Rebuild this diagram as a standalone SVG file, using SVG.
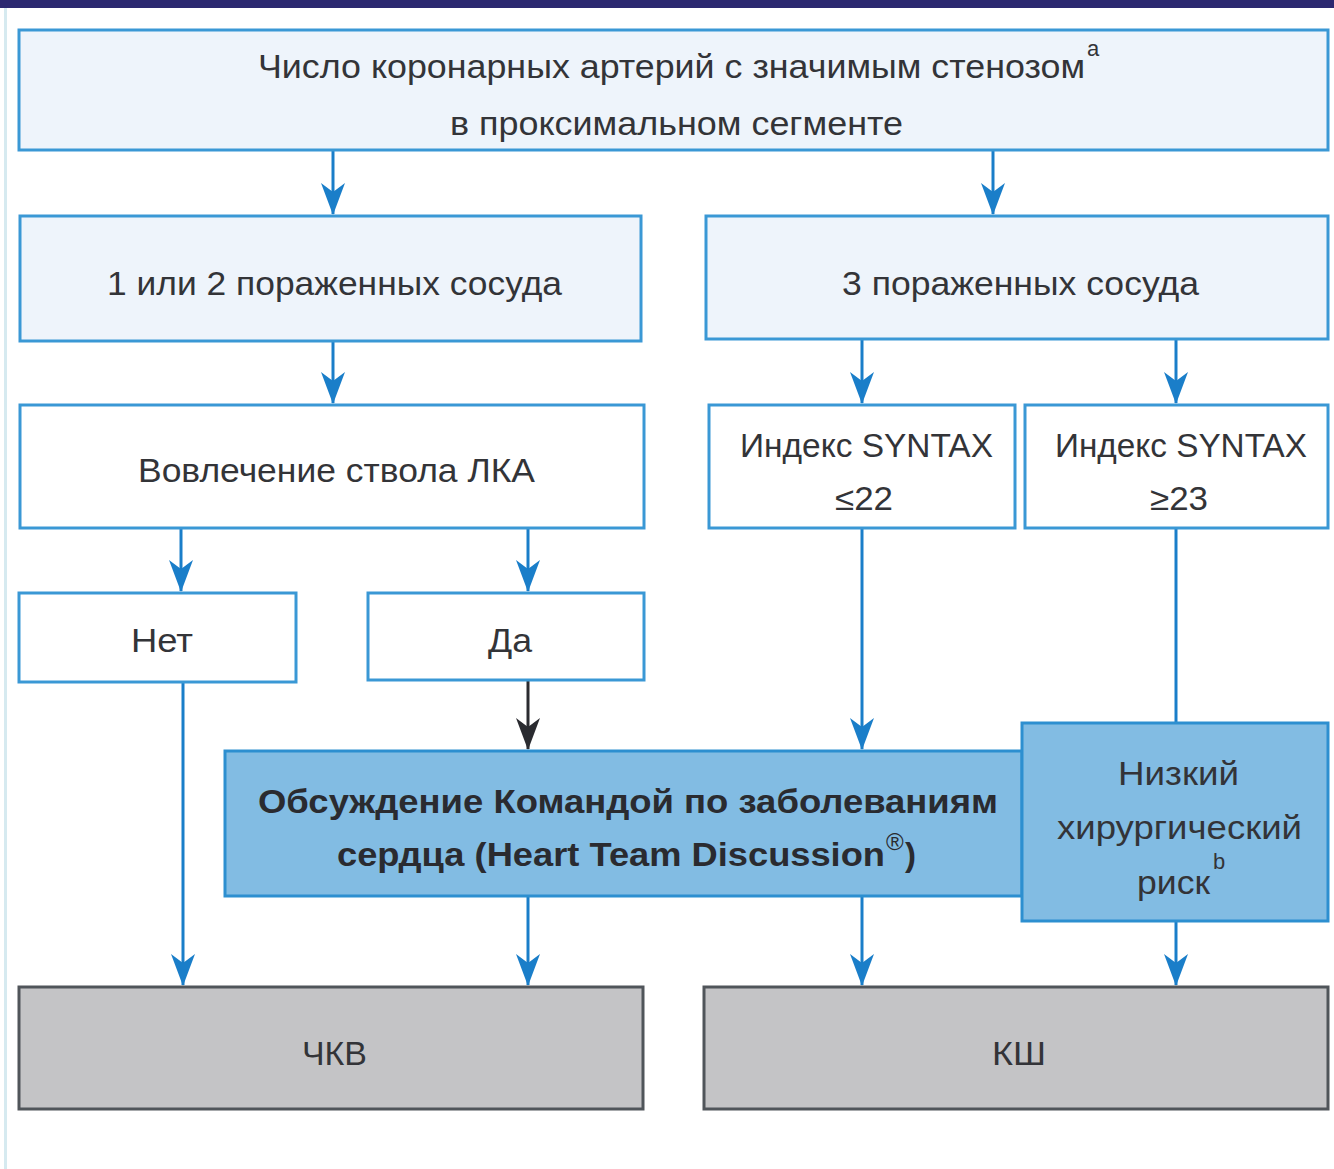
<svg xmlns="http://www.w3.org/2000/svg" width="1334" height="1169" viewBox="0 0 1334 1169">
<defs>
<style>
.bl{fill:#eef4fb;stroke:#3a98d5;stroke-width:3}
.wh{fill:#ffffff;stroke:#3a98d5;stroke-width:3}
.dk{fill:#82bce3;stroke:#2d8fd0;stroke-width:3}
.gr{fill:#c4c4c6;stroke:#50555a;stroke-width:3}
text{font-family:"Liberation Sans",Arial,sans-serif;font-size:33px;fill:#333438}
.b{font-weight:bold;fill:#2a2b30}
.sup{font-size:22px}
.c line{stroke:#1a7ec9;stroke-width:3}
.c line.k{stroke:#2a2b30}
</style>
<marker id="ak" markerUnits="userSpaceOnUse" viewBox="0 0 24 32" markerWidth="24" markerHeight="32" refX="12" refY="31">
<path d="M0,0 L12,9 L24,0 L12,32 Z" fill="#2a2b30"/>
</marker>
<marker id="a" markerUnits="userSpaceOnUse" viewBox="0 0 24 32" markerWidth="24" markerHeight="32" refX="12" refY="31">
<path d="M0,0 L12,9 L24,0 L12,32 Z" fill="#1a7ec9"/>
</marker>
</defs>
<rect x="0" y="0" width="1334" height="1169" fill="#ffffff"/>
<rect x="0" y="0" width="1334" height="8" fill="#2b2870"/>
<rect x="4" y="8" width="3" height="1161" fill="#d6eaf0"/>

<g class="c">
<line x1="333" y1="150" x2="333" y2="214" marker-end="url(#a)"/>
<line x1="993" y1="150" x2="993" y2="214" marker-end="url(#a)"/>
<line x1="333" y1="341" x2="333" y2="403" marker-end="url(#a)"/>
<line x1="862" y1="339" x2="862" y2="403" marker-end="url(#a)"/>
<line x1="1176" y1="339" x2="1176" y2="403" marker-end="url(#a)"/>
<line x1="181" y1="528" x2="181" y2="591" marker-end="url(#a)"/>
<line x1="528" y1="528" x2="528" y2="591" marker-end="url(#a)"/>
<line class="k" x1="528" y1="680" x2="528" y2="749" marker-end="url(#ak)"/>
<line x1="862" y1="528" x2="862" y2="749" marker-end="url(#a)"/>
<line x1="1176" y1="528" x2="1176" y2="723"/>
<line x1="183" y1="682" x2="183" y2="985" marker-end="url(#a)"/>
<line x1="528" y1="896" x2="528" y2="985" marker-end="url(#a)"/>
<line x1="862" y1="896" x2="862" y2="985" marker-end="url(#a)"/>
<line x1="1176" y1="921" x2="1176" y2="985" marker-end="url(#a)"/>
</g>

<g id="n-top">
<rect class="bl" x="19" y="30" width="1309" height="120"/>
<text x="258" y="78" textLength="827" lengthAdjust="spacingAndGlyphs">Число коронарных артерий с значимым стенозом</text>
<text class="sup" x="1087" y="56">a</text>
<text x="450" y="135" textLength="453" lengthAdjust="spacingAndGlyphs">в проксимальном сегменте</text>
</g>
<g id="n-12">
<rect class="bl" x="20" y="216" width="621" height="125"/>
<text x="107" y="295" textLength="455" lengthAdjust="spacingAndGlyphs">1 или 2 пораженных сосуда</text>
</g>
<g id="n-3">
<rect class="bl" x="706" y="216" width="622" height="123"/>
<text x="842" y="295" textLength="357" lengthAdjust="spacingAndGlyphs">3 пораженных сосуда</text>
</g>
<g id="n-lka">
<rect class="wh" x="20" y="405" width="624" height="123"/>
<text x="138" y="482" textLength="397" lengthAdjust="spacingAndGlyphs">Вовлечение ствола ЛКА</text>
</g>
<g id="n-s22">
<rect class="wh" x="709" y="405" width="306" height="123"/>
<text x="740" y="457" textLength="253" lengthAdjust="spacingAndGlyphs">Индекс SYNTAX</text>
<text x="835" y="510" textLength="58" lengthAdjust="spacingAndGlyphs">≤22</text>
</g>
<g id="n-s23">
<rect class="wh" x="1025" y="405" width="303" height="123"/>
<text x="1055" y="457" textLength="252" lengthAdjust="spacingAndGlyphs">Индекс SYNTAX</text>
<text x="1150" y="510" textLength="58" lengthAdjust="spacingAndGlyphs">≥23</text>
</g>
<g id="n-net">
<rect class="wh" x="19" y="593" width="277" height="89"/>
<text x="131" y="652" textLength="62" lengthAdjust="spacingAndGlyphs">Нет</text>
</g>
<g id="n-da">
<rect class="wh" x="368" y="593" width="276" height="87"/>
<text x="488" y="652" textLength="44" lengthAdjust="spacingAndGlyphs">Да</text>
</g>
<g id="n-heart">
<rect class="dk" x="225" y="751" width="797" height="145"/>
<text class="b" x="258" y="813" textLength="740" lengthAdjust="spacingAndGlyphs">Обсуждение Командой по заболеваниям</text>
<text class="b" x="337" y="866" textLength="548" lengthAdjust="spacingAndGlyphs">сердца (Heart Team Discussion</text>
<text class="sup" x="886" y="850" style="font-size:24px;fill:#2a2b30">®</text>
<text class="b" x="905" y="866">)</text>
</g>
<g id="n-risk">
<rect class="dk" x="1022" y="723" width="306" height="198"/>
<text x="1118" y="785" textLength="121" lengthAdjust="spacingAndGlyphs">Низкий</text>
<text x="1057" y="839" textLength="245" lengthAdjust="spacingAndGlyphs">хирургический</text>
<text x="1137" y="894" textLength="73" lengthAdjust="spacingAndGlyphs">риск</text>
<text class="sup" x="1213" y="869">b</text>
</g>
<g id="n-pci">
<rect class="gr" x="19" y="987" width="624" height="122"/>
<text x="302" y="1065" textLength="65" lengthAdjust="spacingAndGlyphs">ЧКВ</text>
</g>
<g id="n-cabg">
<rect class="gr" x="704" y="987" width="624" height="122"/>
<text x="992" y="1065" textLength="54" lengthAdjust="spacingAndGlyphs">КШ</text>
</g>
</svg>
